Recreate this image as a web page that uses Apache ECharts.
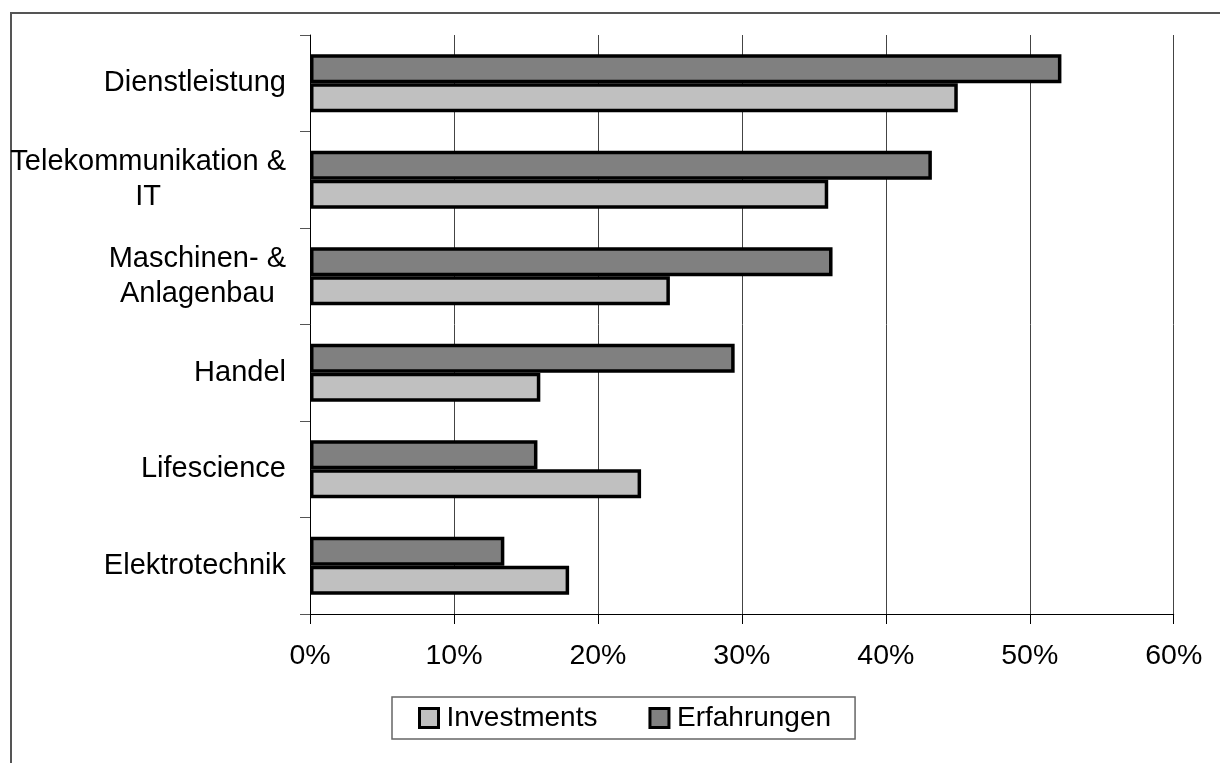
<!DOCTYPE html>
<html>
<head>
<meta charset="utf-8">
<script src="https://cdn.jsdelivr.net/npm/echarts@6/dist/echarts.min.js"></script>
<style>
  html, body { margin: 0; padding: 0; background: #fff; }
  #chart { width: 1220px; height: 763px; }
</style>
</head>
<body>
<div id="chart"></div>
<script>
// Branchen (top to bottom)
const categories = [
  'Dienstleistung',
  'Telekommunikation &\nIT',
  'Maschinen- &\nAnlagenbau',
  'Handel',
  'Lifescience',
  'Elektrotechnik'
];
// Anteile in Prozent
const investments = [45, 36, 25, 16, 23, 18];
const erfahrungen = [52.2, 43.2, 36.3, 29.5, 15.8, 13.5];
// x-axis ticks
const xTicks = [0, 10, 20, 30, 40, 50, 60];

const FONT = '"Liberation Sans", Arial, sans-serif';

const chart = echarts.init(document.getElementById('chart'), null, { renderer: 'canvas' });

chart.setOption({
  animation: false,
  backgroundColor: '#fff',
  textStyle: { fontFamily: FONT, color: '#000' },
  graphic: [{
    type: 'rect',
    shape: { x: 11, y: 13, width: 1400, height: 1000 },
    style: { fill: 'none', stroke: '#555', lineWidth: 2 },
    silent: true,
    z: -1
  }],
  grid: { left: 310, right: 46.3, top: 35, bottom: 149, containLabel: false },
  xAxis: {
    type: 'value',
    min: xTicks[0],
    max: xTicks[xTicks.length - 1],
    interval: xTicks[1] - xTicks[0],
    axisLine: { show: true, lineStyle: { color: '#000', width: 1 } },
    axisTick: { show: true, length: 10, lineStyle: { color: '#000', width: 1 } },
    axisLabel: {
      formatter: v => v + '%',
      fontSize: 28.5, lineHeight: 28, margin: 28,
      color: '#000', fontFamily: FONT
    },
    splitLine: { show: true, lineStyle: { color: '#444', width: 1 } }
  },
  yAxis: {
    type: 'category',
    inverse: true,
    data: categories,
    axisLine: { show: true, lineStyle: { color: '#000', width: 1 } },
    axisTick: { show: true, length: 10, lineStyle: { color: '#555', width: 1 } },
    axisLabel: {
      align: 'right',
      margin: 24,
      formatter: v => v.split('\n').map(l => '{c|' + l + '}').join('\n'),
      rich: {
        c: { align: 'center', fontSize: 29, lineHeight: 35, color: '#000', fontFamily: FONT }
      }
    }
  },
  legend: {
    data: ['Investments', 'Erfahrungen'],
    left: 392, top: 697,
    orient: 'horizontal',
    padding: [7, 24, 7, 26],
    itemWidth: 19, itemHeight: 19,
    itemGap: 51,
    borderColor: '#666', borderWidth: 1.5,
    icon: 'rect',
    itemStyle: { borderColor: '#000', borderWidth: 3 },
    textStyle: { fontSize: 28, color: '#000', fontFamily: FONT, padding: [0, 0, 0, 3] }
  },
  series: [
    {
      name: 'Erfahrungen',
      type: 'bar',
      data: erfahrungen,
      barWidth: 29,
      barGap: '0%',
      itemStyle: { color: '#808080', borderColor: '#000', borderWidth: 3.5 }
    },
    {
      name: 'Investments',
      type: 'bar',
      data: investments,
      barWidth: 29,
      barGap: '0%',
      itemStyle: { color: '#c0c0c0', borderColor: '#000', borderWidth: 3.5 }
    }
  ]
});
</script>
</body>
</html>
